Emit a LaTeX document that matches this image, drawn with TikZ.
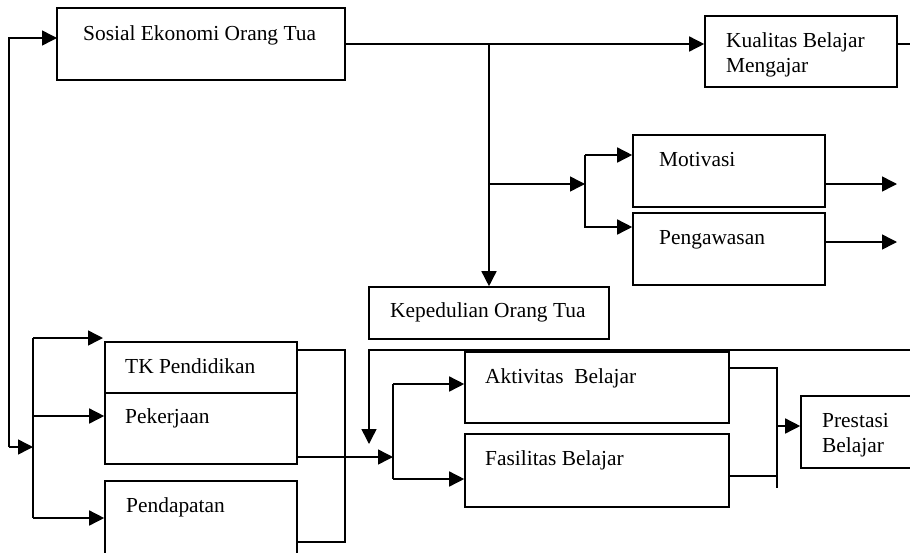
\documentclass[tikz,border=0pt]{standalone}
\usepackage{fontspec}
\setmainfont{Liberation Serif}
\usetikzlibrary{arrows.meta}

\tikzset{
  box/.style={draw, line width=1.6pt, inner sep=0pt},
  txt/.style={anchor=base west, inner sep=0pt, align=left,
    font=\fontsize{21.4}{25}\selectfont},
  ln/.style={line width=1.5pt},
  arr/.style={ln, -{Triangle[length=15pt,width=15pt]}},
}

\begin{document}
\begin{tikzpicture}[x=1pt,y=-1pt]
  \useasboundingbox (0,0) rectangle (910,552);

  %% boxes
  \node[box, minimum width=288, minimum height=72] (sosial) at (201,44) {};
  \node[box, minimum width=192, minimum height=71] (kualitas) at (801,51.5) {};
  \node[box, minimum width=192, minimum height=72] (motivasi) at (729,171) {};
  \node[box, minimum width=192, minimum height=72] (pengawasan) at (729,249) {};
  \node[box, minimum width=240, minimum height=52] (peduli) at (489,313) {};
  \node[box, minimum width=192, minimum height=51] (tk) at (201,367.5) {};
  \node[box, minimum width=192, minimum height=71] (kerja) at (201,428.5) {};
  \node[box, minimum width=192, minimum height=80] (dapat) at (201,521) {};
  \node[box, minimum width=264, minimum height=71] (aktif) at (597,387.5) {};
  \node[box, minimum width=264, minimum height=73] (fasil) at (597,470.5) {};
  \node[box, minimum width=140, minimum height=72] (prestasi) at (871,432) {};

  % texts (base of last line)
  \node[txt] (sosial-t) at (83,40) {Sosial Ekonomi Orang Tua};
  \node[txt] (kualitas-t) at (726,72) {Kualitas Belajar\\Mengajar};
  \node[txt] (motivasi-t) at (659,166) {Motivasi};
  \node[txt] (pengawasan-t) at (659,244) {Pengawasan};
  \node[txt] (peduli-t) at (390,317) {Kepedulian Orang Tua};
  \node[txt] (tk-t) at (125,373) {TK Pendidikan};
  \node[txt] (kerja-t) at (125,423) {Pekerjaan};
  \node[txt] (dapat-t) at (126,512) {Pendapatan};
  \node[txt] (aktif-t) at (485,383) {Aktivitas\ \ Belajar};
  \node[txt] (fasil-t) at (485,465) {Fasilitas Belajar};
  \node[txt] (prestasi-t) at (822,452) {Prestasi\\Belajar};

  %% junctions
  \coordinate (jl) at (9,447);
  \coordinate (sin) at (57,38);
  \coordinate (bl) at (33,447);
  \coordinate (top) at (489,44);
  \coordinate (mid) at (489,184);
  \coordinate (fork) at (585,184);
  \coordinate (outk) at (910,44);
  \coordinate (outm) at (897,184);
  \coordinate (outp) at (897,242);
  \coordinate (fb) at (910,350);
  \coordinate (fbe) at (369,444);
  \coordinate (join) at (393,457);
  \coordinate (bj) at (777,426);

  %% connectors top
  \draw[arr] (jl) |- (sin);
  \draw[arr] (sosial.east |- top) -- (kualitas.west |- top);
  \draw[ln] (kualitas.east |- top) -- (outk);
  \draw[arr] (top) -- (peduli.north);
  \draw[arr] (mid) -- (fork);
  \draw[arr] (fork |- 0,155) |- (motivasi.west |- 0,155);
  \draw[arr] (fork |- 0,155) |- (pengawasan.west |- 0,227);
  \draw[arr] (motivasi.east |- outm) -- (outm);
  \draw[arr] (pengawasan.east |- outp) -- (outp);

  %% connectors bottom left
  \draw[arr] (jl) -- (bl);
  \draw[ln] (33,338) -- (33,518);
  \draw[arr] (33,338) -- (103,338);
  \draw[arr] (33,416) -- (kerja.west |- 0,416);
  \draw[arr] (33,518) -- (dapat.west |- 0,518);
  \draw[ln] (tk.east |- 0,350) -| (345,542) -- (dapat.east |- 0,542);
  \draw[arr] (kerja.east |- join) -- (join);
  \draw[ln] (393,384) -- (393,479);
  \draw[arr] (393,384) -- (aktif.west |- 0,384);
  \draw[arr] (393,479) -- (fasil.west |- 0,479);
  \draw[arr] (fb) -| (fbe);

  %% connectors bottom right
  \draw[ln] (aktif.east |- 0,368) -| (777,488);
  \draw[ln] (fasil.east |- 0,476) -- (777,476);
  \draw[arr] (bj) -- (prestasi.west |- bj);
\end{tikzpicture}
\end{document}
